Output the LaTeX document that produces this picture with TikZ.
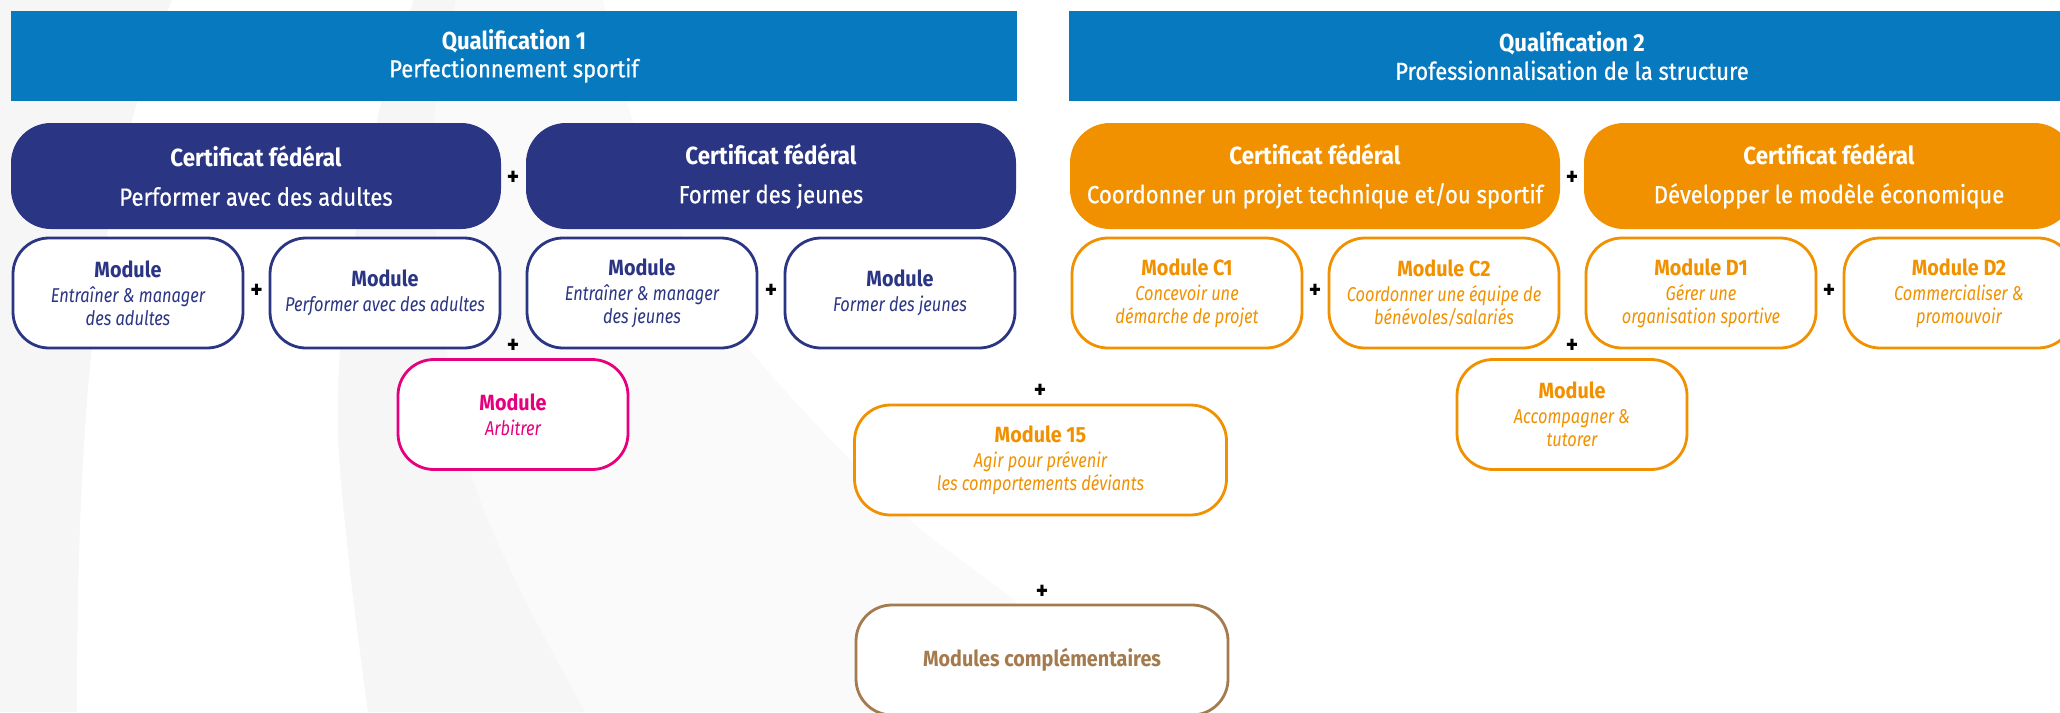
\documentclass[tikz,border=0pt]{standalone}
\usepackage{fontspec}
\setmainfont{Fira Sans}[FakeStretch=0.9,ItalicFeatures={FakeStretch=0.82}]
\newfontfamily\medfont{Fira Sans}[FakeStretch=0.89,FakeBold=0.7]
\definecolor{qblue}{HTML}{0779BF}
\definecolor{navy}{HTML}{2A3583}
\definecolor{orng}{HTML}{F29100}
\definecolor{pinkc}{HTML}{E6007E}
\definecolor{brownc}{HTML}{A47B4E}
\definecolor{bgA}{HTML}{F6F6F6}
\definecolor{bgB}{HTML}{FAFAFA}
\newcommand\modtitle[1]{{\upshape\bfseries\fontsize{11}{11.5}\selectfont #1}}
\begin{document}
\begin{tikzpicture}[x=0.5pt,y=-0.5pt,
  qual/.style={fill=qblue,text=white,inner sep=0pt,minimum width=503pt,minimum height=45pt,align=center,font=\fontsize{12.3}{14}\selectfont},
  cert/.style={fill=#1,text=white,rounded corners=20pt,inner sep=0pt,minimum width=245pt,minimum height=53pt,align=center,font=\fontsize{12.4}{19.5}\selectfont},
  modbox/.style={draw=#1,text=#1,fill=white,line width=1.4pt,rounded corners=18pt,inner sep=0pt,minimum width=115pt,minimum height=55pt,align=center,font=\fontsize{10}{11.5}\selectfont\itshape},
  widebox/.style={minimum width=186pt},
  plus/.style={font=\fontsize{13}{13}\selectfont\bfseries,inner sep=0pt,text=black},
]
\useasboundingbox (0,0) rectangle (2060,712);
\clip (0,0) rectangle (2060,712);
% background decoration
\fill[bgA] (0,0) -- (172,0) .. controls (100,180) and (77,380) .. (77,712) -- (0,712) -- cycle;
\fill[bgB] plot[smooth] coordinates {(414,0) (379,112) (345,300) (338,430) (350,570) (368,712)}
  -- plot[smooth] coordinates {(1120,712) (1017,603) (905,515) (742,340) (665,200) (630,112) (603,0)} -- cycle;
\fill[bgA] plot[smooth] coordinates {(414,0) (379,112) (345,300) (338,430) (350,570) (368,712)}
  -- plot[smooth] coordinates {(585,712) (520,590) (470,470) (440,300) (435,112) (456,0)} -- cycle;

% qualification bars
\node[qual] (q1) at (514,56) {{\bfseries Qualification 1}\\{\medfont Perfectionnement sportif}};
\node[qual] (q2) at (1572,56) {{\bfseries Qualification 2}\\{\medfont Professionnalisation de la structure}};

% certificates
\node[cert=navy] (c1) at (256,176) {{\bfseries Certificat fédéral}\\{\medfont Performer avec des adultes}};
\node[cert=navy] (c2) at (771,176) {{\bfseries Certificat fédéral}\\{\medfont Former des jeunes}};
\node[cert=orng] (c3) at (1315,176) {{\bfseries Certificat fédéral}\\{\medfont Coordonner un projet technique et/ou sportif}};
\node[cert=orng] (c4) at (1829,176) {{\bfseries Certificat fédéral}\\{\medfont Développer le modèle économique}};

% modules row
\node[modbox=navy] (m1) at (128,293) {\modtitle{Module}\\[1pt]Entraîner \& manager\\des adultes};
\node[modbox=navy] (m2) at (385,293) {\modtitle{Module}\\[1pt]Performer avec des adultes};
\node[modbox=navy] (m3) at (642,293) {\modtitle{Module}\\[1pt]Entraîner \& manager\\des jeunes};
\node[modbox=navy] (m4) at (900,293) {\modtitle{Module}\\[1pt]Former des jeunes};
\node[modbox=orng] (mc1) at (1187,293) {\modtitle{Module C1}\\[1pt]Concevoir une\\démarche de projet};
\node[modbox=orng] (mc2) at (1444,293) {\modtitle{Module C2}\\[1pt]Coordonner une équipe de\\bénévoles/salariés};
\node[modbox=orng] (md1) at (1701,293) {\modtitle{Module D1}\\[1pt]Gérer une\\organisation sportive};
\node[modbox=orng] (md2) at (1959,293) {\modtitle{Module D2}\\[1pt]Commercialiser \&\\promouvoir};

% second level modules
\node[modbox=pinkc] (ma) at (513,414.5) {\modtitle{Module}\\[1pt]Arbitrer};
\node[modbox=orng] (mt) at (1572,414.5) {\modtitle{Module}\\[1pt]Accompagner \&\\tutorer};
\node[modbox=orng,widebox] (m15) at (1040.5,460) {\modtitle{Module 15}\\[1pt]Agir pour prévenir\\les comportements déviants};
\node[modbox=brownc,widebox] (mcomp) at (1042,660) {\modtitle{Modules complémentaires}};

% plus signs
\node[plus] (p1) at (513,178) {+};
\node[plus] (p2) at (1572,178) {+};
\node[plus] (p3) at (256.5,291) {+};
\node[plus] (p4) at (771,291) {+};
\node[plus] (p5) at (1315,291) {+};
\node[plus] (p6) at (1829,291) {+};
\node[plus] (p7) at (513,346) {+};
\node[plus] (p8) at (1572,346) {+};
\node[plus] (p9) at (1040,391) {+};
\node[plus] (p10) at (1042,592) {+};
\end{tikzpicture}
\end{document}
